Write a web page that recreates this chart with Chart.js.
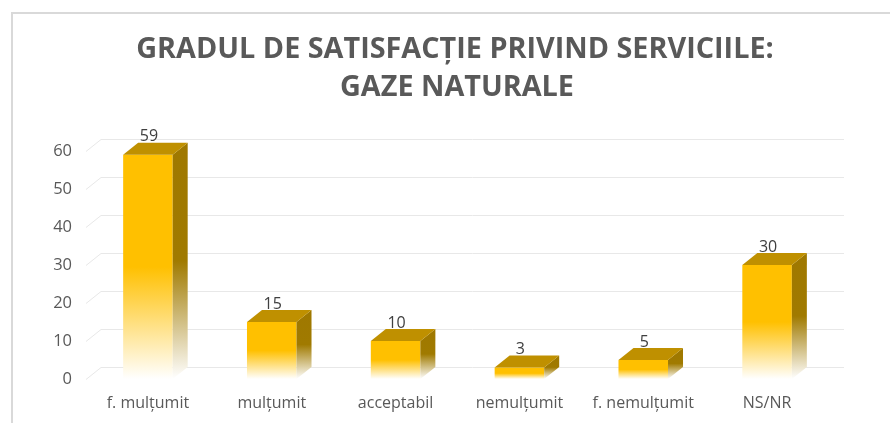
<!DOCTYPE html>
<html lang="ro">
<head>
<meta charset="UTF-8">
<title>Gradul de satisfacție - gaze naturale</title>
<script src="https://cdn.jsdelivr.net/npm/chart.js"></script>
<style>
  *{margin:0;padding:0}
  html,body{width:890px;height:423px;background:#fff;overflow:hidden}
  #wrap{width:890px;height:423px;position:relative}
</style>
</head>
<body>
<div id="wrap"><canvas id="chart"></canvas></div>
<script>
const categories = ["f. mulțumit", "mulțumit", "acceptabil", "nemulțumit", "f. nemulțumit", "NS/NR"]
const values = [59, 15, 10, 3, 5, 30]
const yTicks = [0, 10, 20, 30, 40, 50, 60]
const titleLines = ["GRADUL DE SATISFACȚIE PRIVIND SERVICIILE:", "GAZE NATURALE"]

// depth of the fake 3d look
const DX = 15, DY = 12

function frontGradient(chart, i){
    const y = chart.scales.y
    if (!y) return '#FFC000'
    const top = y.getPixelForValue(values[i])
    const base = y.getPixelForValue(0)
    if (!isFinite(top) || !isFinite(base) || top === base) return '#FFC000'
    const g = chart.ctx.createLinearGradient(0, top, 0, base)
    g.addColorStop(0, '#FFC000')
    g.addColorStop(0.5, '#FFC000')
    g.addColorStop(1, 'rgba(255,255,255,1)')
    return g
}

const frame = {
    id: 'frame',
    beforeDraw(chart){
        const c = chart.ctx
        c.save()
        c.fillStyle = '#fff'
        c.fillRect(0, 0, chart.width, chart.height)
        c.fillStyle = '#D9D9D9'
        c.fillRect(11, 12, chart.width - 11, 2)
        c.fillRect(11, 12, 2, chart.height - 12)
        // title, centred on the frame rather than the plot
        c.fillStyle = '#595959'
        c.font = 'bold 28.8px "Open Sans"'
        c.textAlign = 'center'
        c.textBaseline = 'alphabetic'
        c.fillText(titleLines[0], 455, 58)
        c.fillText(titleLines[1], 457, 96)
        c.restore()
    },
    beforeDatasetsDraw(chart){
        // back wall grid lines
        const c = chart.ctx, a = chart.chartArea, y = chart.scales.y
        c.save()
        c.strokeStyle = '#E8E8E8'
        c.lineWidth = 1
        yTicks.forEach(v => {
            const py = Math.round(y.getPixelForValue(v)) + 0.5
            c.beginPath()
            c.moveTo(a.left, py)
            c.lineTo(a.left + DX, py - DY)
            c.lineTo(a.right + DX, py - DY)
            c.stroke()
        })
        c.restore()
    },
    afterDatasetsDraw(chart){
        const c = chart.ctx
        const meta = chart.getDatasetMeta(0)
        c.save()
        meta.data.forEach((bar, i) => {
            const l = bar.x - bar.width / 2, r = bar.x + bar.width / 2
            const t = bar.y, b = bar.base
            // side face
            const sg = c.createLinearGradient(0, t - DY, 0, b)
            sg.addColorStop(0, '#9F7800')
            sg.addColorStop(0.5, '#A07A00')
            sg.addColorStop(1, 'rgba(255,255,255,1)')
            c.fillStyle = sg
            c.beginPath()
            c.moveTo(r, t)
            c.lineTo(r + DX, t - DY)
            c.lineTo(r + DX, b - DY)
            c.lineTo(r, b)
            c.closePath()
            c.fill()
            // top face
            c.fillStyle = '#BF9000'
            c.beginPath()
            c.moveTo(l, t)
            c.lineTo(l + DX, t - DY)
            c.lineTo(r + DX, t - DY)
            c.lineTo(r, t)
            c.closePath()
            c.fill()
            // value
            c.fillStyle = '#404040'
            c.font = '16px "Open Sans"'
            c.textAlign = 'center'
            c.textBaseline = 'bottom'
            c.fillText(values[i], bar.x + 1, t - DY + 2)
        })
        c.restore()
    }
}

new Chart(document.getElementById('chart'), {
    type: 'bar',
    data: {
        labels: categories,
        datasets: [{
            data: values,
            backgroundColor: ctx => frontGradient(ctx.chart, ctx.dataIndex),
            borderWidth: 0,
            barPercentage: 0.4,
            categoryPercentage: 1
        }]
    },
    options: {
        responsive: true,
        maintainAspectRatio: false,
        animation: false,
        layout: {padding: {left: 0, right: 61, top: 151, bottom: 11}},
        plugins: {
            legend: {display: false},
            tooltip: {enabled: false},
            title: {display: false}
        },
        scales: {
            x: {
                afterFit: s => { s.height = 33 },
                grid: {display: false, drawTicks: false},
                border: {display: false},
                ticks: {color: '#595959', font: {family: 'Open Sans', size: 16}, padding: 15, maxRotation: 0, autoSkip: false}
            },
            y: {
                min: 0,
                max: 60,
                afterFit: s => { s.width = 86 },
                grid: {display: false, drawTicks: false},
                border: {display: false},
                ticks: {stepSize: 10, color: '#595959', font: {family: 'Open Sans', size: 16.5}, padding: 14}
            }
        }
    },
    plugins: [frame]
})
</script>
</body>
</html>
